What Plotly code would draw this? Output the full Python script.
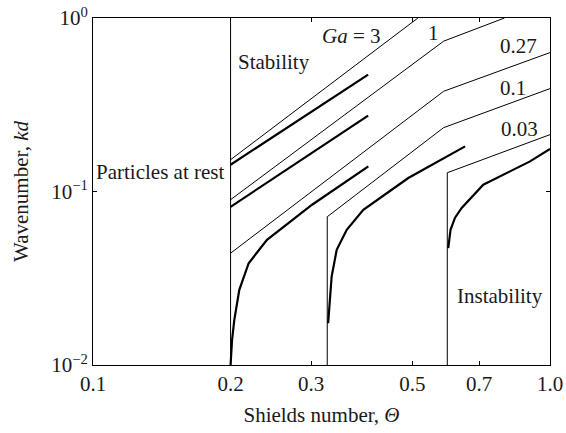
import plotly.graph_objects as go

# ---- data (Shields number Θ, wavenumber kd) ----
rest_theta = [0.2, 0.2]
rest_kd = [0.01, 1.0]

ga3_neutral_theta = [0.2, 0.514]
ga3_neutral_kd = [0.1525, 1.0]
ga3_max_theta = [0.2, 0.40]
ga3_max_kd = [0.1427, 0.472]

ga1_neutral_theta = [0.2, 0.585, 0.795]
ga1_neutral_kd = [0.0897, 0.735, 1.0]
ga1_max_theta = [0.2, 0.40]
ga1_max_kd = [0.0816, 0.2737]

ga027_neutral_theta = [0.2, 0.585, 1.0]
ga027_neutral_kd = [0.0441, 0.378, 0.632]
ga027_max_theta = [0.2, 0.2015, 0.2038, 0.209, 0.2191, 0.2403, 0.3016, 0.4004]
ga027_max_kd = [0.01, 0.01394, 0.0182, 0.0271, 0.0386, 0.0527, 0.0839, 0.1395]

ga01_neutral_theta = [0.3255, 0.3255, 0.585, 1.0]
ga01_neutral_kd = [0.01, 0.0715, 0.2333, 0.3918]
ga01_max_theta = [0.327, 0.330, 0.3328, 0.3414, 0.3591, 0.3904, 0.4897, 0.652]
ga01_max_kd = [0.0174, 0.0259, 0.0323, 0.0461, 0.0601, 0.0784, 0.1196, 0.182]

ga003_neutral_theta = [0.596, 0.596, 1.0]
ga003_neutral_kd = [0.01, 0.1283, 0.2127]
ga003_max_theta = [0.5989, 0.6058, 0.6197, 0.6415, 0.7145, 0.8044, 0.9042, 1.0]
ga003_max_kd = [0.0472, 0.0601, 0.0706, 0.0806, 0.1094, 0.1278, 0.1491, 0.1758]

x_tickvals = [0.1, 0.2, 0.3, 0.5, 0.7, 1.0]
x_ticktext = ["0.1", "0.2", "0.3", "0.5", "0.7", "1.0"]
y_tickvals = [0.01, 0.1, 1.0]
y_ticktext = ["10<sup>\u22122</sup>", "10<sup>\u22121</sup>", "10<sup>0</sup>"]

FONT = "Liberation Serif, Times New Roman, serif"
TXT = "#1a1a1a"
FS = 21

fig = go.Figure()

thin = [
    (rest_theta, rest_kd),
    (ga3_neutral_theta, ga3_neutral_kd),
    (ga1_neutral_theta, ga1_neutral_kd),
    (ga027_neutral_theta, ga027_neutral_kd),
    (ga01_neutral_theta, ga01_neutral_kd),
    (ga003_neutral_theta, ga003_neutral_kd),
]
thick = [
    (ga3_max_theta, ga3_max_kd),
    (ga1_max_theta, ga1_max_kd),
    (ga027_max_theta, ga027_max_kd),
    (ga01_max_theta, ga01_max_kd),
    (ga003_max_theta, ga003_max_kd),
]
for xs, ys in thin:
    fig.add_trace(go.Scatter(x=xs, y=ys, mode="lines",
                             line=dict(color="black", width=1), showlegend=False))
for xs, ys in thick:
    fig.add_trace(go.Scatter(x=xs, y=ys, mode="lines",
                             line=dict(color="black", width=2.2), showlegend=False))

def ann(text, x, y):
    fig.add_annotation(text=text, xref="paper", yref="paper", x=x, y=y,
                       xanchor="center", yanchor="middle", showarrow=False,
                       font=dict(family=FONT, size=FS, color=TXT))

ann("Particles at rest", 0.1466, 0.556)
ann("Stability", 0.397, 0.874)
ann("<i>Ga</i> = 3", 0.5656, 0.9475)
ann("1", 0.745, 0.9567)
ann("0.27", 0.9307, 0.9192)
ann("0.1", 0.9197, 0.798)
ann("0.03", 0.9326, 0.6788)
ann("Instability", 0.8895, 0.1997)

axis_common = dict(
    type="log", showgrid=False, zeroline=False, automargin=False,
    showline=True, linecolor="black", linewidth=1, mirror="ticks",
    ticks="inside", ticklen=4, tickcolor="black", tickwidth=1,
    tickfont=dict(family=FONT, size=FS, color=TXT),
)

fig.update_xaxes(range=[-1, 0], tickmode="array", tickvals=x_tickvals, ticktext=x_ticktext,
                 title=dict(text="Shields number, <i>\u0398</i>",
                            font=dict(family=FONT, size=FS, color=TXT), standoff=12),
                 **axis_common)
fig.update_yaxes(range=[-2, 0], tickmode="array", tickvals=y_tickvals, ticktext=y_ticktext,
                 title=dict(text="Wavenumber, <i>kd</i>",
                            font=dict(family=FONT, size=FS, color=TXT), standoff=16),
                 **axis_common)

fig.update_layout(
    width=566, height=433,
    margin=dict(l=93, r=16, t=18, b=68),
    paper_bgcolor="white", plot_bgcolor="white",
    font=dict(family=FONT, size=FS, color=TXT),
)

fig.write_html("out.html")
